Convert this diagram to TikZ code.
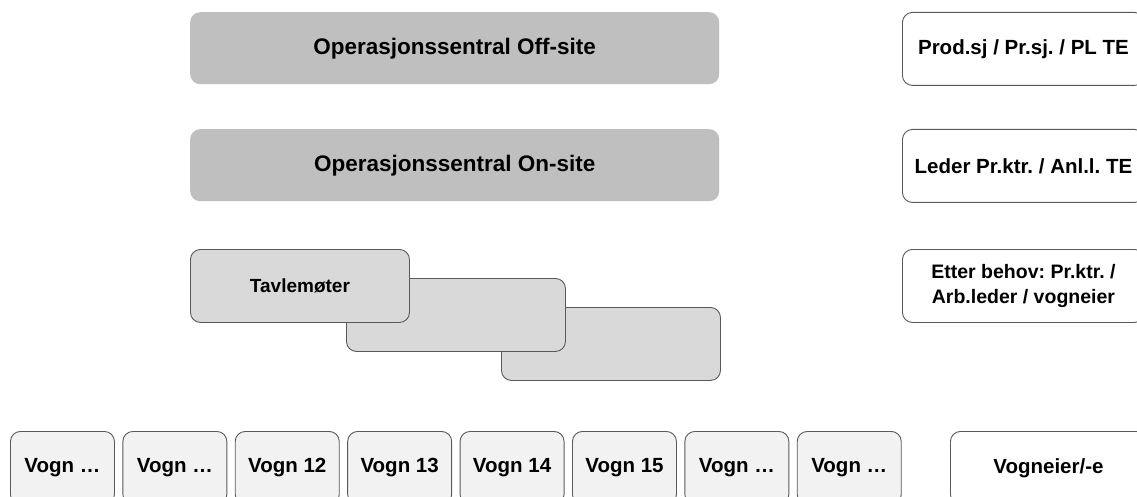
\documentclass[tikz,border=0pt]{standalone}
\usepackage{fontspec}
\setmainfont{Liberation Sans}
\frenchspacing
\definecolor{opfill}{HTML}{BFBFBF}
\definecolor{tvfill}{HTML}{D9D9D9}
\definecolor{vgfill}{HTML}{F2F2F2}
\definecolor{edge}{HTML}{595959}
\tikzset{
  base/.style={anchor=north west, rounded corners=10pt, inner sep=0pt, align=center,
    font=\fontsize{20.5}{24}\selectfont\bfseries},
  opbox/.style={base, fill=opfill, minimum width=529pt, minimum height=72pt,
    font=\fontsize{22.5}{26}\selectfont\bfseries},
  tvbox/.style={base, fill=tvfill, draw=edge, line width=0.9pt, minimum width=219pt, minimum height=73pt,
    font=\fontsize{19}{23}\selectfont\bfseries},
  rbox/.style={base, fill=white, draw=edge, line width=0.9pt, minimum width=242pt, minimum height=73pt},
  vbox/.style={base, fill=vgfill, draw=edge, line width=0.9pt, minimum width=104pt, minimum height=73pt},
}
\begin{document}
\begin{tikzpicture}[x=1pt,y=-1pt]
\useasboundingbox (0,0) rectangle (1137,497);
\clip (0,0) rectangle (1137,497);
\fill[white] (0,0) rectangle (1137,497);
% operations centres
\node[opbox] (off) at (190,12) {Operasjonssentral Off-site};
\node[opbox] (on) at (190,129) {Operasjonssentral On-site};
% stacked meeting boxes
\node[tvbox] (t3) at (501,307) {};
\node[tvbox] (t2) at (346,278) {};
\node[tvbox] (t1) at (190,249) {Tavlemøter};
% right column
\node[rbox] (r1) at (902,12) {Prod.sj / Pr.sj. / PL TE};
\node[rbox] (r2) at (902,129) {Leder Pr.ktr. / Anl.l. TE};
\node[rbox, font=\fontsize{19.5}{25}\selectfont\bfseries] (r3) at (902,249) {Etter behov: Pr.ktr. /\\Arb.leder / vogneier};
% wagons
\node[vbox] (v1) at (10,431) {Vogn …};
\node[vbox] (v2) at (122.4,431) {Vogn …};
\node[vbox] (v3) at (234.8,431) {Vogn 12};
\node[vbox] (v4) at (347.2,431) {Vogn 13};
\node[vbox] (v5) at (459.6,431) {Vogn 14};
\node[vbox] (v6) at (572,431) {Vogn 15};
\node[vbox] (v7) at (684.4,431) {Vogn …};
\node[vbox] (v8) at (796.8,431) {Vogn …};
\node[rbox, minimum width=196pt] (ve) at (950,431) {Vogneier/-e};
\end{tikzpicture}
\end{document}
